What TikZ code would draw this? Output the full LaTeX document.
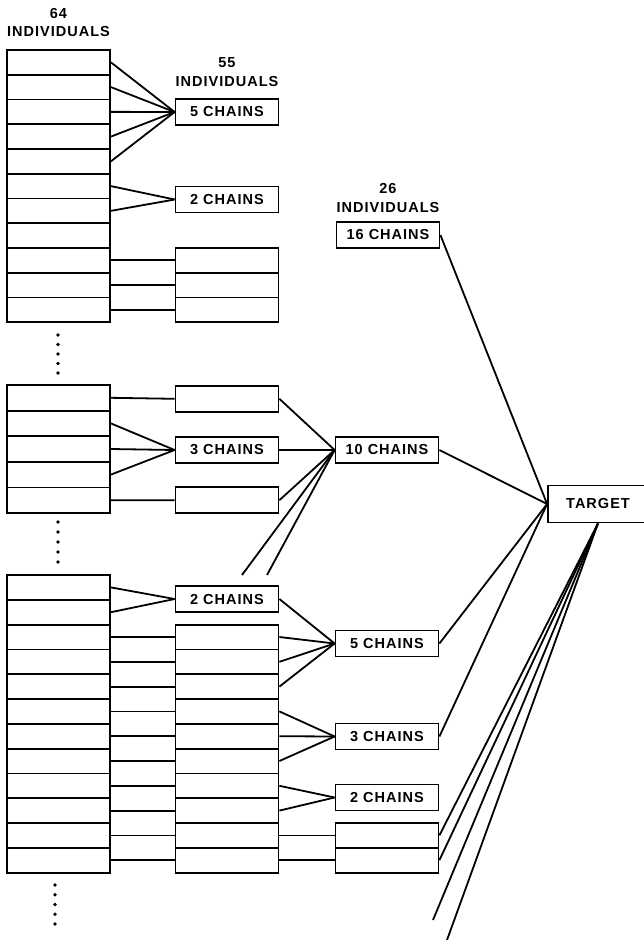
\documentclass[tikz,border=0pt]{standalone}
\usepackage{fontspec}
\newfontfamily\chainfont{Liberation Sans}[LetterSpace=7]

\begin{document}
\begin{tikzpicture}[x=1pt,y=-1pt,line width=1.8pt,
  every node/.style={font=\chainfont\bfseries\fontsize{14.5}{18.5}\selectfont},
  cellbox/.style={draw,rectangle,minimum width=103pt,minimum height=24.8pt,inner sep=0pt},
  chainbox/.style={draw,rectangle,minimum width=103pt,minimum height=26pt,inner sep=0pt},
  headlabel/.style={align=center,inner sep=0pt}]
\useasboundingbox (0,0) rectangle (644,940);

\node[headlabel] (n64) at (58.5,22.5) {64\\INDIVIDUALS};
\node[headlabel] (n55) at (227,72) {55\\INDIVIDUALS};
\node[headlabel] (n26) at (388,198) {26\\INDIVIDUALS};

\foreach \i in {1,...,11}
  \node[cellbox] (u\i) at (58.5,37.6+24.75*\i) {};
\node[chainbox] (uc5) at (227,112) {5 CHAINS};
\node[chainbox] (uc2) at (227,199.5) {2 CHAINS};
\foreach \i in {9,10,11}
  \node[cellbox] (uv\i) at (227,37.6+24.75*\i) {};
\foreach \i in {1,...,5} \draw (u\i.east) -- (uc5.west);
\foreach \i in {6,7} \draw (u\i.east) -- (uc2.west);
\foreach \i in {9,10,11} \draw (u\i.east) -- (uv\i.west);
\foreach \y in {335,344.5,...,373} \fill (58,\y) circle (1.9pt);

\foreach \i in {1,...,5}
  \node[cellbox,minimum height=25.6pt] (m\i) at (58.5,372.2+25.6*\i) {};
\node[chainbox] (mv1) at (227,398.8) {};
\node[chainbox] (mc3) at (227,450) {3 CHAINS};
\node[chainbox] (mv5) at (227,500.2) {};
\node[chainbox] (c10) at (387,450) {10 CHAINS};
\draw (m1.east) -- (mv1.west);
\foreach \i in {2,3,4} \draw (m\i.east) -- (mc3.west);
\draw (m5.east) -- (mv5.west);
\foreach \n in {mv1,mc3,mv5} \draw (\n.east) -- (c10.west);
\coordinate (f1) at (242,575);
\coordinate (f2) at (267,575);
\foreach \n in {f1,f2} \draw (c10.west) -- (\n);
\foreach \y in {522,532,...,562} \fill (58,\y) circle (1.9pt);

\foreach \i in {1,...,12}
  \node[cellbox] (l\i) at (58.5,562.6+24.8*\i) {};
\node[chainbox] (lc2) at (227,599) {2 CHAINS};
\foreach \i in {3,...,12}
  \node[cellbox] (lv\i) at (227,562.6+24.8*\i) {};
\node[chainbox] (c5) at (387,643.5) {5 CHAINS};
\node[chainbox] (c3) at (387,736.5) {3 CHAINS};
\node[chainbox] (c2) at (387,797.5) {2 CHAINS};
\foreach \i in {11,12}
  \node[cellbox] (lw\i) at (387,562.6+24.8*\i) {};
\foreach \i in {1,2} \draw (l\i.east) -- (lc2.west);
\foreach \i in {3,...,12} \draw (l\i.east) -- (lv\i.west);
\foreach \n in {lc2,lv3,lv4,lv5} \draw (\n.east) -- (c5.west);
\foreach \n in {lv6,lv7,lv8} \draw (\n.east) -- (c3.west);
\foreach \n in {lv9,lv10} \draw (\n.east) -- (c2.west);
\foreach \i in {11,12} \draw (lv\i.east) -- (lw\i.west);
\foreach \y in {885,894.75,...,924} \fill (55,\y) circle (1.9pt);

\node[chainbox] (c16) at (388,235) {16 CHAINS};
\node[draw,rectangle,minimum width=100pt,minimum height=37pt] (target) at (598,504) {TARGET};
\foreach \n in {c16,c10,c5,c3} \draw (\n.east) -- (target.west);
\coordinate (f3) at (433,920);
\coordinate (f4) at (447,940);
\foreach \n in {lw11.east,lw12.east,f3,f4} \draw (target.south) -- (\n);
\end{tikzpicture}
\end{document}
